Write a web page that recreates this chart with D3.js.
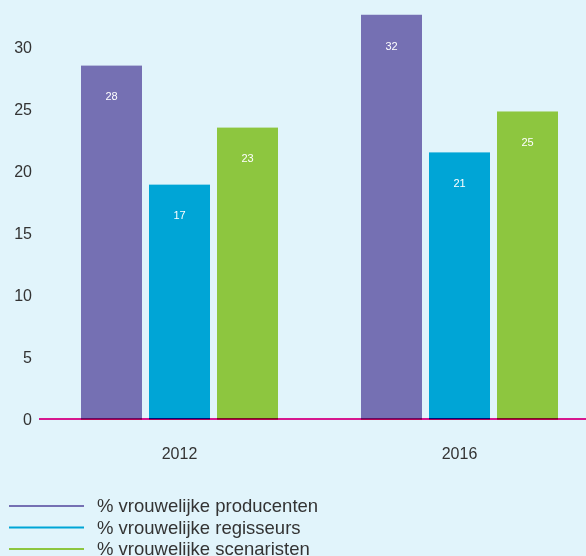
<!DOCTYPE html>
<html>
<head>
<meta charset="utf-8">
<script src="https://cdn.jsdelivr.net/npm/d3@7"></script>
<style>
  body { margin: 0; background: #e1f4fb; }
  svg { display: block; font-family: "Liberation Sans", Arial, sans-serif; }
</style>
</head>
<body>
<div id="chart"></div>
<script>
const years = ["2012", "2016"];
const series = [
  "% vrouwelijke producenten",
  "% vrouwelijke regisseurs",
  "% vrouwelijke scenaristen"
];
// bar heights
const producenten = [28.5, 32.6];
const regisseurs = [18.9, 21.5];
const scenaristen = [23.5, 24.8];
// printed labels inside the bars
const producentenLabels = ["28", "32"];
const regisseursLabels = ["17", "21"];
const scenaristenLabels = ["23", "25"];
const yTicks = [0, 5, 10, 15, 20, 25, 30];
const colors = ["#7570b3", "#00a5d6", "#8dc63f"];

const values = [producenten, regisseurs, scenaristen];
const labels = [producentenLabels, regisseursLabels, scenaristenLabels];

const width = 586;
const height = 556;

const svg = d3
  .select("#chart")
  .append("svg")
  .attr("width", width)
  .attr("height", height);

svg.append("rect").attr("width", width).attr("height", height).attr("fill", "#e1f4fb");

const x0 = d3.scaleBand().domain(years).range([39.5, 599.5]);
const x1 = d3
  .scaleBand()
  .domain(series)
  .range([x0.bandwidth() / 2 - 98.5, x0.bandwidth() / 2 + 98.5])
  .paddingInner(7 / 68);
const y = d3.scaleLinear().domain([0, 30]).range([419, 47]);

// y axis labels
svg
  .append("g")
  .attr("transform", "translate(32,0)")
  .call(d3.axisLeft(y).tickValues(yTicks).tickSize(0).tickPadding(0))
  .call((g) => g.select(".domain").remove())
  .selectAll("text")
  .style("font-size", "16px")
  .style("font-family", "Liberation Sans, Arial, sans-serif")
  .attr("fill", "#333");

// zero line (under the bars)
svg
  .append("line")
  .attr("x1", 39)
  .attr("x2", width)
  .attr("y1", y(0))
  .attr("y2", y(0))
  .attr("stroke", "#d6178e")
  .attr("stroke-width", 2);

const rows = [];
years.forEach((yr, i) => {
  series.forEach((s, j) => {
    rows.push({ year: yr, series: s, value: values[j][i], label: labels[j][i], color: colors[j] });
  });
});

const bars = svg.append("g");
bars
  .selectAll("rect.bar")
  .data(rows)
  .join("rect")
  .attr("class", "bar")
  .attr("x", (d) => x0(d.year) + x1(d.series))
  .attr("y", (d) => y(d.value))
  .attr("width", x1.bandwidth())
  .attr("height", (d) => y(0) - y(d.value))
  .attr("fill", (d) => d.color);

// darker strip where the zero line crosses the bars
bars
  .selectAll("rect.strip")
  .data(rows)
  .join("rect")
  .attr("class", "strip")
  .attr("x", (d) => x0(d.year) + x1(d.series))
  .attr("y", y(0) - 1)
  .attr("width", x1.bandwidth())
  .attr("height", 2)
  .attr("fill", "#d6178e")
  .style("mix-blend-mode", "multiply");

bars
  .selectAll("text")
  .data(rows)
  .join("text")
  .attr("x", (d) => x0(d.year) + x1(d.series) + x1.bandwidth() / 2)
  .attr("y", (d) => y(d.value) + 31)
  .attr("dy", ".35em")
  .attr("text-anchor", "middle")
  .style("font-size", "11px")
  .attr("fill", "#fff")
  .text((d) => d.label);

// year labels
svg
  .append("g")
  .selectAll("text")
  .data(years)
  .join("text")
  .attr("x", (d) => x0(d) + x0.bandwidth() / 2)
  .attr("y", 453)
  .attr("dy", ".35em")
  .attr("text-anchor", "middle")
  .style("font-size", "16px")
  .attr("fill", "#333")
  .text((d) => d);

// legend
const legend = svg
  .append("g")
  .selectAll("g")
  .data(series)
  .join("g")
  .attr("transform", (d, i) => `translate(0,${506 + i * 21.5})`);

legend
  .append("line")
  .attr("x1", 9)
  .attr("x2", 84)
  .attr("stroke", (d, i) => colors[i])
  .attr("stroke-width", 2);

legend
  .append("text")
  .attr("x", 97)
  .attr("dy", ".35em")
  .style("font-size", "18.5px")
  .attr("fill", "#333")
  .text((d) => d);
</script>
</body>
</html>
